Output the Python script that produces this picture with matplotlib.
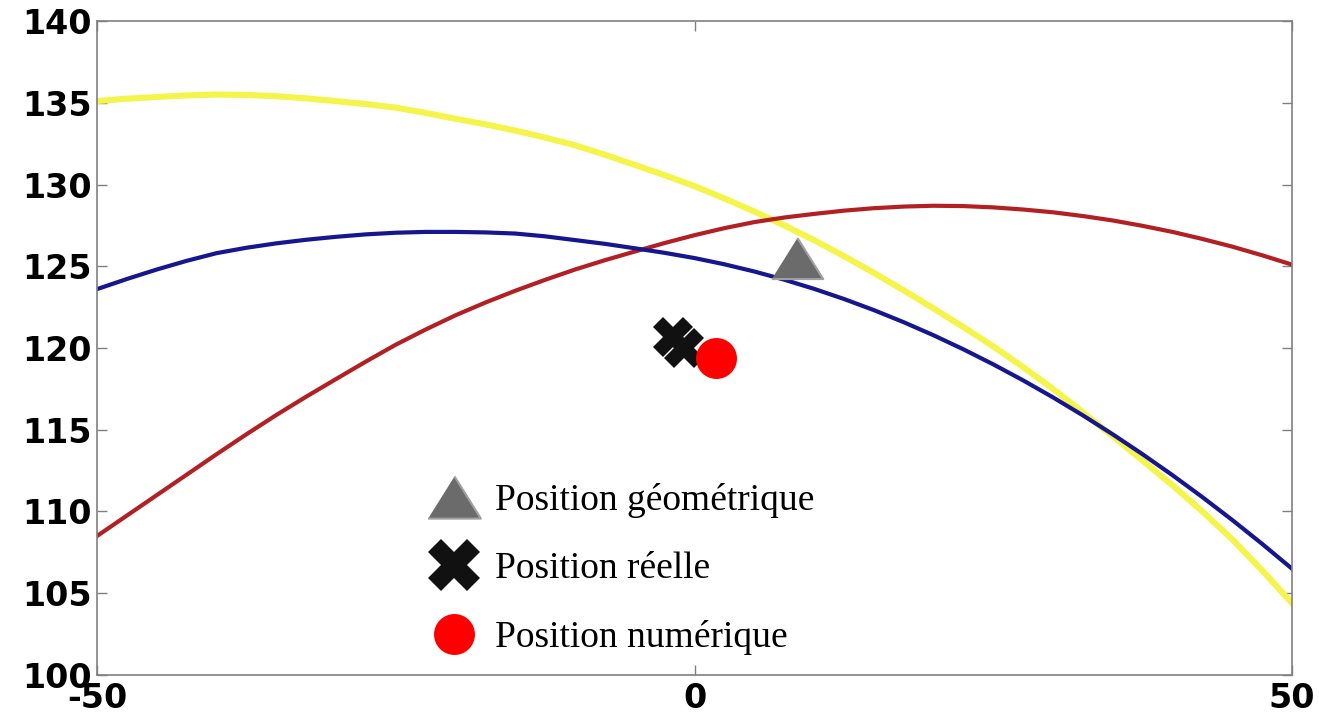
import matplotlib
matplotlib.use("Agg")
import matplotlib.pyplot as plt
from matplotlib.lines import Line2D

plt.rcParams["axes.unicode_minus"] = False

# sampled abscissae shared by the three curves (step 2.5)
X = [-50, -47.5, -45, -42.5, -40, -37.5, -35, -32.5, -30, -27.5, -25,
     -22.5, -20, -17.5, -15, -12.5, -10, -7.5, -5, -2.5, 0,
     2.5, 5, 7.5, 10, 12.5, 15, 17.5, 20, 22.5, 25,
     27.5, 30, 32.5, 35, 37.5, 40, 42.5, 45, 47.5, 50]
YELLOW = [135.10, 135.25, 135.35, 135.45, 135.50, 135.48, 135.40, 135.27, 135.10, 134.92, 134.70,
          134.38, 134.02, 133.68, 133.30, 132.87, 132.40, 131.82, 131.20, 130.57, 129.90,
          129.15, 128.35, 127.50, 126.60, 125.62, 124.60, 123.53, 122.42, 121.28, 120.10,
          118.83, 117.50, 116.07, 114.60, 113.12, 111.60, 110.00, 108.30, 106.40, 104.40]
RED = [108.50, 109.75, 111.00, 112.25, 113.50, 114.72, 115.90, 117.02, 118.10, 119.17, 120.20,
       121.13, 122.00, 122.78, 123.50, 124.17, 124.80, 125.37, 125.90, 126.42, 126.90,
       127.33, 127.70, 127.98, 128.20, 128.40, 128.55, 128.65, 128.70, 128.68, 128.60,
       128.47, 128.30, 128.07, 127.80, 127.47, 127.10, 126.67, 126.20, 125.67, 125.10]
BLUE = [123.60, 124.22, 124.80, 125.33, 125.80, 126.13, 126.40, 126.62, 126.80, 126.95, 127.05,
        127.10, 127.10, 127.07, 127.00, 126.83, 126.60, 126.37, 126.10, 125.82, 125.50,
        125.12, 124.68, 124.18, 123.62, 123.00, 122.32, 121.58, 120.78, 119.92, 119.00,
        118.02, 116.98, 115.88, 114.72, 113.50, 112.22, 110.88, 109.48, 108.02, 106.50]

GEOM_X, GEOM_Y = [8.6], [125.5]
REAL_X, REAL_Y = [-1.8, -0.88], [120.67, 120.0]
NUM_X, NUM_Y = [1.8], [119.4]

LABELS = ["Position géométrique", "Position réelle", "Position numérique"]
X_TICKS = [-50, 0, 50]
Y_TICKS = [100, 105, 110, 115, 120, 125, 130, 135, 140]

# a slightly flattened triangle
TRIANGLE = [(-1.25, -1), (1.25, -1), (0, 1)]
GREY, GREY_EDGE = "#6b6b6b", "#a0a0a0"


def main():
    fig = plt.figure(figsize=(13.19, 7.15), dpi=100)
    ax = fig.add_axes([97 / 1319, 40 / 715, 1195 / 1319, 654 / 715])

    ax.plot(X, YELLOW, color="#f4f44a", lw=4.4)
    ax.plot(X, RED, color="#b22024", lw=3)
    ax.plot(X, BLUE, color="#16168f", lw=3)

    ax.plot(GEOM_X, GEOM_Y, ls="none", marker=TRIANGLE, ms=37,
            mfc=GREY, mec=GREY_EDGE, mew=1.5)
    ax.plot(REAL_X, REAL_Y, ls="none", marker="X", ms=29, color="#111111", mew=0)
    ax.plot(NUM_X, NUM_Y, ls="none", marker="o", ms=29.5, color="red", mew=0)

    ax.set_xlim(-50, 50)
    ax.set_ylim(100, 140)
    ax.set_xticks(X_TICKS)
    ax.set_yticks(Y_TICKS)
    ax.tick_params(direction="in", length=7, width=1, color="#808080",
                   top=True, right=True, labelsize=24)
    ax.tick_params(axis="y", pad=4)
    ax.tick_params(axis="x", pad=5)
    for lab in ax.get_xticklabels() + ax.get_yticklabels():
        lab.set_fontweight("bold")
        lab.set_family("DejaVu Sans")
    for sp in ax.spines.values():
        sp.set_color("#808080")
        sp.set_linewidth(1.2)

    handles = [
        Line2D([], [], ls="none", marker=TRIANGLE, ms=38, mfc=GREY, mec=GREY_EDGE, mew=1.5),
        Line2D([], [], ls="none", marker="X", ms=37, color="#111111", mew=0),
        Line2D([], [], ls="none", marker="o", ms=29.5, color="red", mew=0),
    ]
    ax.legend(handles, LABELS, loc="upper left", bbox_to_anchor=(0.283, 0.294),
              frameon=False, prop={"family": "Liberation Serif", "size": 27},
              handlelength=1.0, handletextpad=0.6, labelspacing=0.9,
              borderpad=0, borderaxespad=0, numpoints=1)

    fig.savefig("out.png", dpi=100)
    plt.close(fig)


if __name__ == "__main__":
    main()
